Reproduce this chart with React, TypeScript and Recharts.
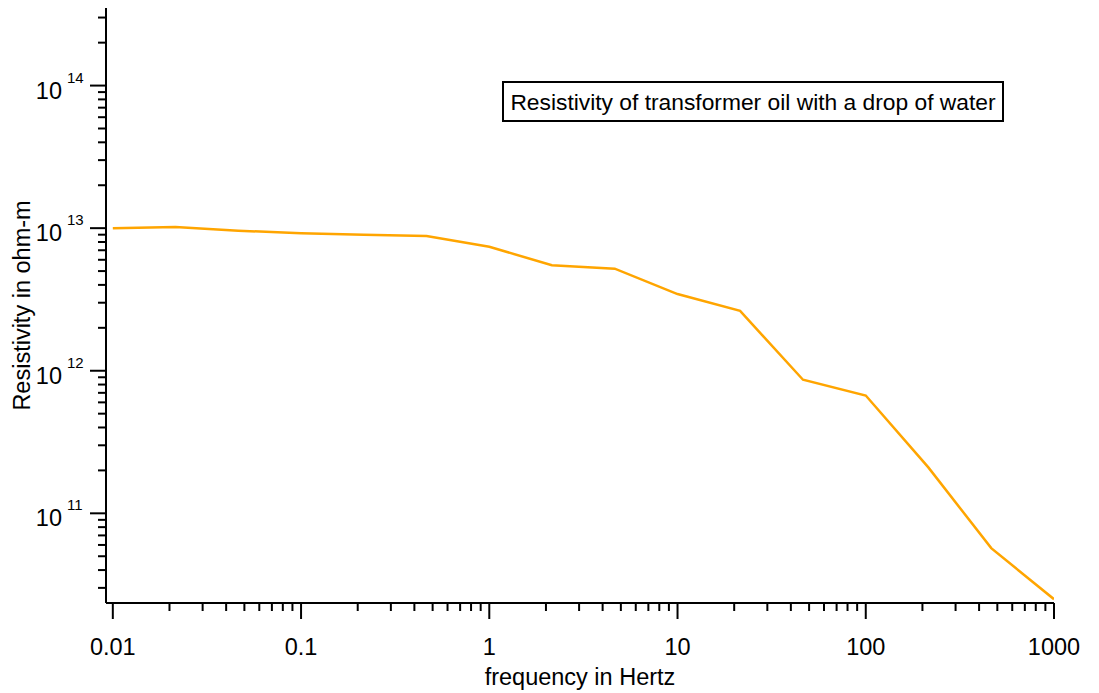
import { LineChart, Line, XAxis, YAxis, Customized } from "recharts";

// measured resistivity of transformer oil (with a drop of water) vs. frequency
const freq = [0.01, 0.0215, 0.0464, 0.1, 0.215, 0.464, 1, 2.15, 4.64, 10, 21.5, 46.4, 100, 215, 464, 1000];
const resistivity = [
  1.0e13, 1.02e13, 9.6e12, 9.2e12, 9.0e12, 8.8e12, 7.4e12, 5.5e12, 5.2e12, 3.45e12, 2.63e12,
  8.65e11, 6.7e11, 2.1e11, 5.7e10, 2.5e10,
];

const xMajor = [0.01, 0.1, 1, 10, 100, 1000];
const xLabels = ["0.01", "0.1", "1", "10", "100", "1000"];
const yMajor = [1e11, 1e12, 1e13, 1e14];
const yExponents = ["11", "12", "13", "14"];

const xDomain = [0.0092, 1000];
const yDomain = [2.35e10, 3.5e14];

const FONT = "'Liberation Sans', Arial, sans-serif";
const FS = 23.5;

// 1..9 × each decade, kept inside the axis range
function logTicks(lo: number, hi: number) {
  const out: number[] = [];
  for (let e = Math.floor(Math.log10(lo)); e <= Math.ceil(Math.log10(hi)); e++) {
    for (let k = 1; k <= 9; k++) {
      const v = Number((k * Math.pow(10, e)).toPrecision(6));
      if (v >= lo && v <= hi) out.push(v);
    }
  }
  return out;
}

const xTicks = logTicks(xDomain[0], xDomain[1]);
const yTicks = logTicks(yDomain[0], yDomain[1]);

const data = freq.map((f, i) => ({ f, r: resistivity[i] }));

function XTick(props: any) {
  const { x, y, payload } = props;
  const i = xMajor.findIndex((m) => Math.abs(m - payload.value) / m < 1e-6);
  const len = i >= 0 ? 16 : 8;
  return (
    <g>
      <line x1={x} y1={y} x2={x} y2={y + len} stroke="#000" strokeWidth={2} />
      {i >= 0 && (
        <text x={x} y={y + 52} textAnchor="middle" fontSize={FS} fontFamily={FONT} fill="#000">
          {xLabels[i]}
        </text>
      )}
    </g>
  );
}

function YTick(props: any) {
  const { x, y, payload } = props;
  const i = yMajor.findIndex((m) => Math.abs(m - payload.value) / m < 1e-6);
  const len = i >= 0 ? 16 : 8;
  return (
    <g>
      <line x1={x - len} y1={y} x2={x} y2={y} stroke="#000" strokeWidth={2} />
      {i >= 0 && (
        <g fontFamily={FONT} fill="#000">
          <text x={x - 44} y={y + 13} textAnchor="end" fontSize={FS}>
            10
          </text>
          <text x={x - 39} y={y - 3} textAnchor="start" fontSize={15}>
            {yExponents[i]}
          </text>
        </g>
      )}
    </g>
  );
}

function YTitle(props: any) {
  const { viewBox } = props;
  const cx = viewBox.x + 22;
  const cy = viewBox.y + viewBox.height / 2;
  return (
    <text
      x={cx}
      y={cy}
      transform={`rotate(-90 ${cx} ${cy})`}
      textAnchor="middle"
      dominantBaseline="central"
      fontSize={FS}
      fontFamily={FONT}
      fill="#000"
    >
      Resistivity in ohm-m
    </text>
  );
}

function NoteBox() {
  return (
    <g>
      <rect x={503} y={82} width={500} height={39} fill="#fff" stroke="#000" strokeWidth={2} />
      <text x={753} y={102} textAnchor="middle" dominantBaseline="central" fontSize={22.8} fontFamily={FONT} fill="#000">
        Resistivity of transformer oil with a drop of water
      </text>
    </g>
  );
}

export default function App() {
  return (
    <div style={{ position: "absolute", left: 0, top: 0, background: "#fff" }}>
      <LineChart width={1099} height={693} data={data} margin={{ top: 8, right: 45, left: 0, bottom: 0 }}>
        <XAxis
          dataKey="f"
          type="number"
          scale="log"
          domain={xDomain}
          allowDataOverflow
          ticks={xTicks}
          interval={0}
          tick={<XTick />}
          tickLine={false}
          tickSize={0}
          tickMargin={0}
          height={90}
          axisLine={{ stroke: "#000", strokeWidth: 2 }}
          label={{
            value: "frequency in Hertz",
            position: "insideBottom",
            offset: 8,
            fontSize: FS,
            fontFamily: FONT,
            fill: "#000",
          }}
        />
        <YAxis
          dataKey="r"
          type="number"
          scale="log"
          domain={yDomain}
          allowDataOverflow
          ticks={yTicks}
          interval={0}
          tick={<YTick />}
          tickLine={false}
          tickSize={0}
          tickMargin={0}
          width={106}
          axisLine={{ stroke: "#000", strokeWidth: 2 }}
          label={<YTitle />}
        />
        <Line
          dataKey="r"
          type="linear"
          stroke="#FFA500"
          strokeWidth={2.5}
          dot={false}
          isAnimationActive={false}
        />
        <Customized component={NoteBox} />
      </LineChart>
    </div>
  );
}
